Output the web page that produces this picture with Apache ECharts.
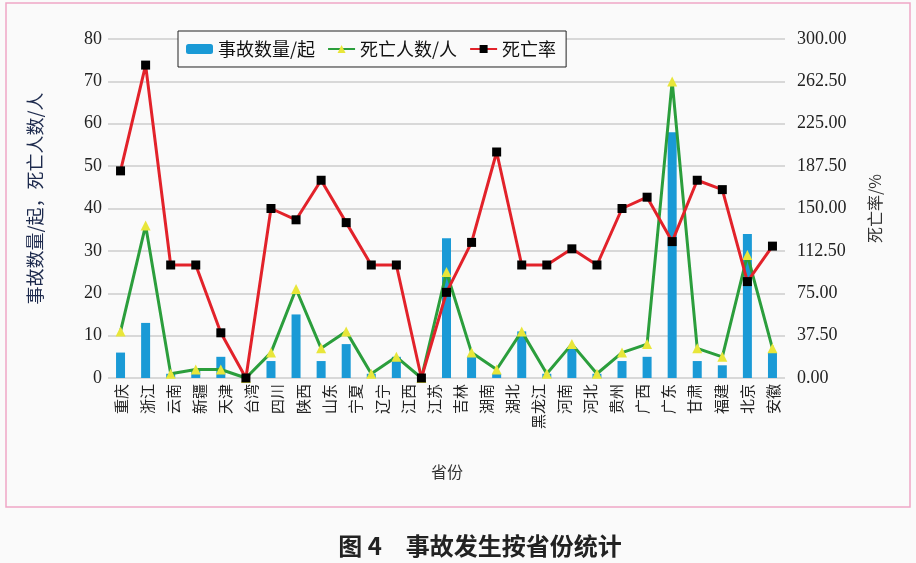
<!DOCTYPE html>
<html>
<head>
<meta charset="utf-8">
<script src="https://cdn.jsdelivr.net/npm/echarts@6/dist/echarts.min.js"></script>
<style>
html,body{margin:0;padding:0;background:#fafafa;}
#c{width:916px;height:563px;}
</style>
</head>
<body>
<div id="c"></div>
<script>
// Tick labels along the category axis (26 labels, spread evenly in the original)
const provinceLabels = ['重庆','浙江','云南','新疆','天津','台湾','四川','陕西','山东','宁夏','辽宁','江西','江苏','吉林','湖南','湖北','黑龙江','河南','河北','贵州','广西','广东','甘肃','福建','北京','安徽'];
// Plotted data points (27 positions as drawn in the original)
const accidents = [6,13,1,2,5,0,4,15,4,8,1,5,0,33,5,1,11,1,7,1,4,5,58,4,3,34,6];
const deaths    = [11,36,1,2,2,0,6,21,7,11,1,5,0,25,6,2,11,1,8,1,6,8,70,7,5,29,7];
const deathRate = [183.3,276.9,100,100,40,0,150,140,175,137.5,100,100,0,75.8,120,200,100,100,114.3,100,150,160,120.7,175,166.7,85.3,116.7];
const leftTicks = {min:0, max:80, interval:10};
const rightTicks = {min:0, max:300, interval:37.5};

const slots = accidents.map((_, i) => String(i));
const serif = '"Liberation Serif", "Times New Roman", serif';
const cjk = '"Noto Sans CJK SC", sans-serif';

const chart = echarts.init(document.getElementById('c'));
chart.setOption({
  backgroundColor: '#fafafa',
  animation: false,
  legend: {
    left: 178, top: 31,
    padding: [9, 10, 9, 8],
    itemGap: 12,
    itemWidth: 27, itemHeight: 10,
    borderColor: '#222', borderWidth: 1,
    backgroundColor: '#fafafa',
    textStyle: {fontSize: 18, color: '#111', fontFamily: cjk},
    data: ['事故数量/起','死亡人数/人','死亡率']
  },
  grid: [
    {left: 108, right: 131, top: 39, bottom: 185},
    {left: 121, right: 143, top: 39, bottom: 185}
  ],
  xAxis: [
    {gridIndex: 0, type: 'category', data: slots, boundaryGap: true,
     axisLine: {show: false}, axisTick: {show: false}, axisLabel: {show: false}},
    {gridIndex: 1, type: 'category', data: provinceLabels, boundaryGap: false,
     axisLine: {show: false}, axisTick: {show: false},
     axisLabel: {rotate: 90, fontSize: 15, color: '#222', margin: 6, interval: 0, fontFamily: cjk},
     name: '省份', nameLocation: 'middle', nameGap: 86,
     nameTextStyle: {fontSize: 16, color: '#333', fontFamily: cjk}}
  ],
  yAxis: [
    {gridIndex: 0, type: 'value', position: 'left', min: leftTicks.min, max: leftTicks.max, interval: leftTicks.interval,
     axisLine: {show: false}, axisTick: {show: false},
     splitLine: {lineStyle: {color: '#cccccc', width: 1.5}},
     axisLabel: {fontSize: 18, color: '#222', margin: 6, fontFamily: serif},
     name: '事故数量/起，死亡人数/人', nameLocation: 'middle', nameGap: 64, nameRotate: 90,
     nameTextStyle: {fontSize: 18, color: '#1d2a4d', fontFamily: cjk, padding: [0, 0, 0, 20]}},
    {gridIndex: 0, type: 'value', position: 'right', min: rightTicks.min, max: rightTicks.max, interval: rightTicks.interval,
     axisLine: {show: false}, axisTick: {show: false}, splitLine: {show: false},
     axisLabel: {fontSize: 18, color: '#222', margin: 12, fontFamily: serif, formatter: v => v.toFixed(2)},
     name: '死亡率/%', nameLocation: 'middle', nameGap: 82, nameRotate: 90,
     nameTextStyle: {fontSize: 16, color: '#333', fontFamily: cjk}},
    {gridIndex: 1, type: 'value', show: false, min: 0, max: 80}
  ],
  series: [
    {name: '事故数量/起', type: 'bar', xAxisIndex: 0, yAxisIndex: 0, data: accidents,
     barWidth: 9, itemStyle: {color: '#1a9ad6'}, z: 2},
    {name: '死亡人数/人', type: 'line', xAxisIndex: 0, yAxisIndex: 0, data: deaths,
     symbol: 'triangle', symbolSize: 10, showAllSymbol: true,
     lineStyle: {color: '#2b9e3c', width: 3},
     itemStyle: {color: '#e8e63a', borderWidth: 0}, z: 3},
    {name: '死亡率', type: 'line', xAxisIndex: 0, yAxisIndex: 1, data: deathRate,
     symbol: 'rect', symbolSize: 9, showAllSymbol: true,
     lineStyle: {color: '#e2222a', width: 3},
     itemStyle: {color: '#000000', borderWidth: 0}, z: 4}
  ],
  graphic: [
    {type: 'rect', silent: true, z: -10,
     shape: {x: 6, y: 3, width: 904, height: 504},
     style: {fill: 'none', stroke: '#f0a6c6', lineWidth: 1.5}},
    {type: 'text', silent: true,
     x: 480, y: 546,
     style: {text: '图 4　事故发生按省份统计', fontSize: 24, fontWeight: 'bold', fontFamily: cjk,
             fill: '#222', align: 'center', verticalAlign: 'middle'}}
  ]
});
</script>
</body>
</html>
